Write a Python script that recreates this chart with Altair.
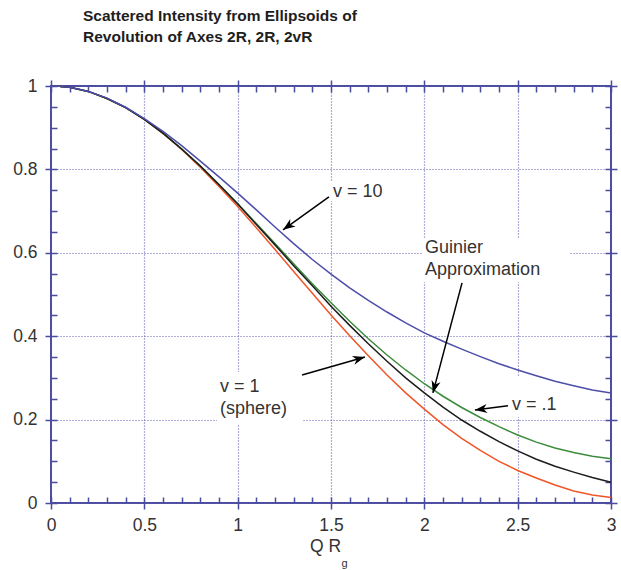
import math
import altair as alt
import pandas as pd

# ---------------- data ----------------
qrg = [0.05, 0.1, 0.2, 0.3, 0.4, 0.5, 0.6, 0.7, 0.8, 0.9, 1.0,
       1.1, 1.2, 1.3, 1.4, 1.5, 1.6, 1.7, 1.8, 1.9, 2.0,
       2.1, 2.2, 2.3, 2.4, 2.5, 2.6, 2.7, 2.8, 2.9, 3.0]

v10 = [0.999, 0.997, 0.987, 0.971, 0.949, 0.922, 0.891, 0.857, 0.820, 0.782, 0.743,
       0.703, 0.662, 0.622, 0.584, 0.549, 0.516, 0.486, 0.458, 0.432, 0.408,
       0.388, 0.369, 0.351, 0.334, 0.319, 0.305, 0.292, 0.281, 0.271, 0.264]

v01 = [0.999, 0.997, 0.987, 0.970, 0.948, 0.920, 0.887, 0.849, 0.808, 0.764, 0.718,
       0.670, 0.622, 0.574, 0.526, 0.480, 0.436, 0.394, 0.355, 0.319, 0.286,
       0.256, 0.229, 0.205, 0.183, 0.163, 0.146, 0.132, 0.121, 0.112, 0.106]

guinier = [0.999, 0.997, 0.987, 0.970, 0.948, 0.920, 0.887, 0.849, 0.808, 0.763, 0.717,
           0.668, 0.619, 0.569, 0.521, 0.472, 0.426, 0.382, 0.340, 0.300, 0.264,
           0.230, 0.199, 0.172, 0.147, 0.125, 0.105, 0.088, 0.074, 0.061, 0.050]

sphere = [0.999, 0.997, 0.987, 0.970, 0.948, 0.920, 0.886, 0.848, 0.805, 0.759, 0.711,
          0.660, 0.608, 0.555, 0.503, 0.451, 0.401, 0.353, 0.307, 0.264, 0.225,
          0.188, 0.155, 0.126, 0.100, 0.078, 0.060, 0.043, 0.029, 0.019, 0.013]

series_names = ["v = 1", "v = .1", "Guinier", "v = 10"]
series_values = [sphere, v01, guinier, v10]
series_colors = ["#ef5528", "#3c8c3c", "#1c1c1c", "#4d4dab"]

x_tick_values = [0.0, 0.1, 0.2, 0.3, 0.4, 0.5, 0.6, 0.7, 0.8, 0.9, 1.0,
                 1.1, 1.2, 1.3, 1.4, 1.5, 1.6, 1.7, 1.8, 1.9, 2.0,
                 2.1, 2.2, 2.3, 2.4, 2.5, 2.6, 2.7, 2.8, 2.9, 3.0]
y_tick_values = [0.0, 0.05, 0.1, 0.15, 0.2, 0.25, 0.3, 0.35, 0.4, 0.45, 0.5,
                 0.55, 0.6, 0.65, 0.7, 0.75, 0.8, 0.85, 0.9, 0.95, 1.0]

# annotations (data coordinates)
note_text = ["v = 10", "Guinier", "Approximation", "v = .1", "v = 1", "(sphere)"]
note_x = [1.511, 2.004, 2.004, 2.470, 0.905, 0.905]
note_y = [0.734, 0.600, 0.547, 0.223, 0.266, 0.213]

arrow_x1 = [1.489, 2.202, 2.448, 1.345]
arrow_y1 = [0.734, 0.528, 0.233, 0.307]
arrow_x2 = [1.243, 2.046, 2.271, 1.682]
arrow_y2 = [0.655, 0.264, 0.223, 0.350]

box_x1 = [1.484, 1.987, 2.432, 0.889]
box_x2 = [1.840, 2.780, 2.750, 1.345]
box_y1 = [0.724, 0.530, 0.206, 0.189]
box_y2 = [0.772, 0.635, 0.302, 0.314]

# ---------------- layout / style ----------------
W, H = 560, 417
AX = "#4b4b9f"
GRID = "#5e5eb4"
TXT = "#333333"
FONT = "Liberation Sans"

rows = []
for name, vals in zip(series_names, series_values):
    for xv, yv in zip(qrg, vals):
        rows.append({"x": xv, "y": yv, "series": name})
df = pd.DataFrame(rows)

notes = pd.DataFrame({"x": note_x, "y": note_y, "text": note_text})
boxes = pd.DataFrame({"x1": box_x1, "x2": box_x2, "y1": box_y1, "y2": box_y2})

kx, ky = W / 3.0, H / 1.0
angles = []
for a, b, c, d in zip(arrow_x1, arrow_y1, arrow_x2, arrow_y2):
    dx = (c - a) * kx
    dy = -(d - b) * ky
    angles.append(math.degrees(math.atan2(dy, dx)) % 360)
arrows = pd.DataFrame({"x1": arrow_x1, "y1": arrow_y1, "x2": arrow_x2,
                       "y2": arrow_y2, "angle": angles})
sub = pd.DataFrame({"x": [1.556], "y": [-0.1544], "text": ["g"]})

major_x = "abs(datum.value*2 - round(datum.value*2)) < 0.001"
major_y = "abs(datum.value*5 - round(datum.value*5)) < 0.001"


def tsize(test):
    return {"condition": {"test": test, "value": 12}, "value": 6}


xs = alt.Scale(domain=[0, 3], nice=False, zero=False)
ys = alt.Scale(domain=[0, 1], nice=False, zero=False)

ax_bottom = alt.Axis(orient="bottom", values=x_tick_values, offset=-6, domain=False,
                     tickSize=tsize(major_x), tickColor=AX, tickWidth=1.5,
                     grid=True, gridColor=GRID, gridDash=[1, 2], gridWidth=1.2,
                     gridOpacity={"condition": {"test": major_x, "value": 1}, "value": 0},
                     labelExpr=f"{major_x} ? format(datum.value, '~g') : ''",
                     labelOverlap=False, labelFlush=False, labelFont=FONT,
                     labelFontSize=17.5, labelColor=TXT, labelPadding=7,
                     title="Q R", titleFont=FONT, titleFontSize=17.5,
                     titleFontWeight="normal", titleColor=TXT, titlePadding=4, titleX=274)
ax_left = alt.Axis(orient="left", values=y_tick_values, offset=-6, domain=False,
                   tickSize=tsize(major_y), tickColor=AX, tickWidth=1.5,
                   grid=True, gridColor=GRID, gridDash=[1, 2], gridWidth=1.2,
                   gridOpacity={"condition": {"test": major_y, "value": 1}, "value": 0},
                   labelExpr=f"{major_y} ? format(datum.value, '~g') : ''",
                   labelOverlap=False, labelFlush=False, labelFont=FONT,
                   labelFontSize=17.5, labelColor=TXT, labelPadding=8, title=None)
ax_top = alt.Axis(orient="top", values=x_tick_values, offset=-6, domain=False,
                  tickSize=tsize(major_x), tickColor=AX, tickWidth=1.5,
                  grid=False, labels=False, title=None)
ax_right = alt.Axis(orient="right", values=y_tick_values, offset=-6, domain=False,
                    tickSize=tsize(major_y), tickColor=AX, tickWidth=1.5,
                    grid=False, labels=False, title=None)

box_layer = alt.Chart(boxes).mark_rect(color="white").encode(
    x=alt.X("x1:Q", scale=xs, axis=ax_top),
    x2="x2:Q",
    y=alt.Y("y1:Q", scale=ys, axis=ax_right),
    y2="y2:Q",
)

line_layer = alt.Chart(df).mark_line(strokeWidth=1.5).encode(
    x=alt.X("x:Q", scale=xs, axis=ax_bottom),
    y=alt.Y("y:Q", scale=ys, axis=ax_left),
    color=alt.Color("series:N", scale=alt.Scale(domain=series_names, range=series_colors),
                    legend=None),
)

text_layer = alt.Chart(notes).mark_text(align="left", baseline="alphabetic", font=FONT,
                                         fontSize=18, color=TXT).encode(
    x=alt.X("x:Q", scale=xs, axis=None),
    y=alt.Y("y:Q", scale=ys, axis=None),
    text="text:N",
)

shaft_layer = alt.Chart(arrows).mark_rule(color="black", strokeWidth=1.5).encode(
    x=alt.X("x1:Q", scale=xs, axis=None),
    y=alt.Y("y1:Q", scale=ys, axis=None),
    x2="x2:Q",
    y2="y2:Q",
)

head_layer = alt.Chart(arrows).mark_point(
    shape="M0,0 L-2,-0.75 L-1.4,0 L-2,0.75 Z", filled=True, color="black",
    opacity=1, size=150, strokeWidth=0).encode(
    x=alt.X("x2:Q", scale=xs, axis=None),
    y=alt.Y("y2:Q", scale=ys, axis=None),
    angle=alt.Angle("angle:Q", scale=None),
)

sub_layer = alt.Chart(sub).mark_text(align="left", baseline="alphabetic", font=FONT,
                                      fontSize=11, color=TXT).encode(
    x=alt.X("x:Q", scale=xs, axis=None),
    y=alt.Y("y:Q", scale=ys, axis=None),
    text="text:N",
)

chart = alt.layer(
    box_layer, line_layer, text_layer, shaft_layer, head_layer, sub_layer
).resolve_axis(
    x="independent", y="independent"
).properties(
    width=W, height=H,
    padding={"left": 51, "top": 86, "right": 10, "bottom": 67},
    autosize=alt.AutoSizeParams(type="none"),
    title=alt.TitleParams(
        text=["Scattered Intensity from Ellipsoids of", "Revolution of Axes 2R, 2R, 2vR"],
        anchor="start", frame="group", dx=32, fontSize=15.5, font=FONT,
        fontWeight="bold", color="#1e1e1e", lineHeight=21, offset=32),
).configure(
    font=FONT
).configure_view(
    stroke=AX, strokeWidth=2
)

chart.save("out.html", embed_options={"renderer": "svg", "actions": False})
